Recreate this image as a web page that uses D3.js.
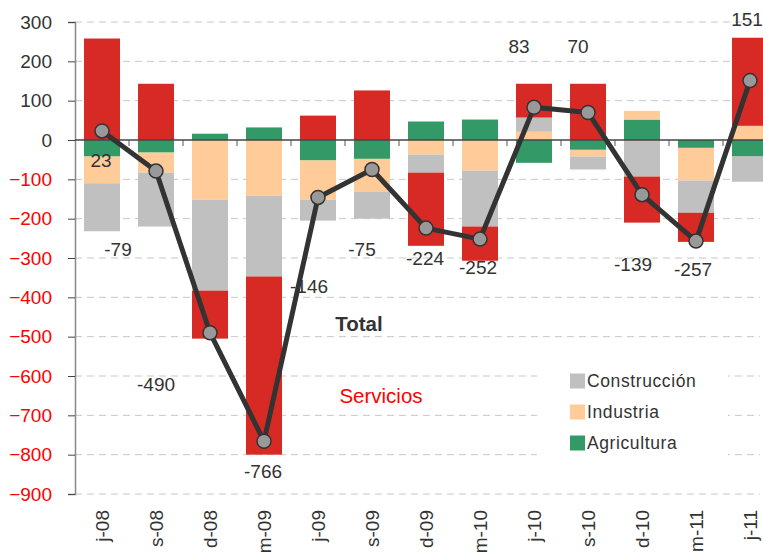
<!DOCTYPE html>
<html><head><meta charset="utf-8">
<script src="https://cdn.jsdelivr.net/npm/d3@7"></script>
<style>body{margin:0;background:#fff;}svg{display:block;font-family:"Liberation Sans",Arial,sans-serif;}</style>
</head><body>
<svg id="c" width="763" height="554"></svg>
<script>
const categories = ["j-08","s-08","d-08","m-09","j-09","s-09","d-09","m-10","j-10","s-10","d-10","m-11","j-11"];
const agricultura  = [-42,-32, 16, 32,-52,-48, 47, 52,-58,-25, 52,-20,-42];
const industria    = [-68,-51,-152,-142,-100,-83,-37,-78, 21,-17, 22,-83, 36];
const construccion = [-122,-137,-231,-205,-53,-69,-46,-142, 36,-33,-93,-82,-64];
const servicios    = [258,143,-122,-453, 62,126,-186,-87, 86,143,-117,-74,224];
const total        = [23,-79,-490,-766,-146,-75,-224,-252,83,70,-139,-257,151];
const yTicks = [300,200,100,0,-100,-200,-300,-400,-500,-600,-700,-800,-900];
// label offsets relative to each total marker (style)
const labelDx = [-1,-38,-54,-1,-9,-10,-1,-2,-15,-10,-9,-3,-3];
const labelDy = [29,78,52,30,89,80,30,28,-61,-66,70,28,-61];

const keys = ["agri","ind","cons","serv"];
const colors = {agri:"#339966", ind:"#ffcc99", cons:"#c0c0c0", serv:"#d82a24"};
const rows = categories.map((c,i)=>({cat:c, agri:agricultura[i], ind:industria[i], cons:construccion[i], serv:servicios[i]}));

const svg = d3.select("#c");
const x = d3.scaleBand().domain(categories).range([75,777]).paddingInner(1/3).paddingOuter(1/6);
const y = d3.scaleLinear().domain([-900,300]).range([494,22]);

// gridlines
svg.append("g").selectAll("line").data(yTicks.filter(v=>v!==0)).join("line")
  .attr("x1",75).attr("x2",760).attr("y1",d=>y(d)).attr("y2",d=>y(d))
  .attr("stroke","#c8c8c8").attr("stroke-width",1).attr("stroke-dasharray","7,5");

// legend background (covers grid)
svg.append("rect").attr("x",537).attr("y",352).attr("width",191).attr("height",118).attr("fill","#fff");

// bars
const stack = d3.stack().keys(keys).offset(d3.stackOffsetDiverging).order(d3.stackOrderNone);
const series = stack(rows);
svg.append("g").selectAll("g").data(series).join("g").attr("fill",d=>colors[d.key])
  .selectAll("rect").data(d=>d).join("rect")
  .attr("x",d=>x(d.data.cat)).attr("width",x.bandwidth())
  .attr("y",d=>y(Math.max(d[0],d[1]))).attr("height",d=>Math.abs(y(d[0])-y(d[1])));

// y axis
const yAxis = d3.axisLeft(y).tickValues(yTicks).tickSize(7).tickPadding(16).tickFormat(d3.format("d"));
const ya = svg.append("g").attr("transform","translate(75,0)").call(yAxis);
ya.select(".domain").attr("stroke","#888").attr("stroke-width",1.5);
ya.selectAll(".tick line").attr("stroke","#444");
ya.selectAll(".tick text").attr("font-size",19).attr("font-family","Liberation Sans, Arial, sans-serif")
  .attr("fill",d=>d<0?"#ff0000":"#333");

// zero axis with ticks between bands
svg.append("line").attr("x1",75).attr("x2",763).attr("y1",y(0)).attr("y2",y(0)).attr("stroke","#444").attr("stroke-width",1.5);
const step = x.step();
svg.append("g").selectAll("line").data(categories.slice(1)).join("line")
  .attr("x1",d=>x(d)-x.paddingInner()*step/2).attr("x2",d=>x(d)-x.paddingInner()*step/2)
  .attr("y1",y(0)).attr("y2",y(0)+6).attr("stroke","#555");

// x labels
svg.append("g").selectAll("text").data(categories).join("text")
  .attr("transform",d=>`translate(${x(d)+x.bandwidth()/2+7},510) rotate(-90)`)
  .attr("text-anchor","end").attr("font-size",19).attr("fill","#333").text(d=>d);

// total line
const cx = (d,i)=>x(categories[i])+x.bandwidth()/2;
svg.append("path").datum(total)
  .attr("d",d3.line().x(cx).y(d=>y(d)))
  .attr("fill","none").attr("stroke","#333").attr("stroke-width",5).attr("stroke-linejoin","round");
svg.append("g").selectAll("circle").data(total).join("circle")
  .attr("cx",cx).attr("cy",d=>y(d)).attr("r",7)
  .attr("fill","#999").attr("stroke","#333").attr("stroke-width",1.5);

// total labels
svg.append("g").selectAll("text").data(total).join("text")
  .attr("x",(d,i)=>cx(d,i)+labelDx[i]).attr("y",(d,i)=>y(d)+labelDy[i])
  .attr("dy","0.35em").attr("text-anchor","middle").attr("font-size",19).attr("fill","#333")
  .text(d=>d);

// annotations
svg.append("text").attr("x",359).attr("y",324).attr("dy","0.35em").attr("text-anchor","middle")
  .attr("font-size",20.5).attr("font-weight","bold").attr("fill","#333").text("Total");
svg.append("text").attr("x",381).attr("y",396).attr("dy","0.35em").attr("text-anchor","middle")
  .attr("font-size",20.5).attr("fill","#ff0000").text("Servicios");

// legend
const legend = [["Construcción","cons"],["Industria","ind"],["Agricultura","agri"]];
const lg = svg.append("g").selectAll("g").data(legend).join("g")
  .attr("transform",(d,i)=>`translate(570,${381+i*31})`);
lg.append("rect").attr("x",0).attr("y",-7.5).attr("width",15).attr("height",15).attr("fill",d=>colors[d[1]]);
lg.append("text").attr("x",17).attr("dy","0.35em").attr("font-size",17.5).attr("letter-spacing",0.6)
  .attr("fill","#333").text(d=>d[0]);
</script>
</body></html>
